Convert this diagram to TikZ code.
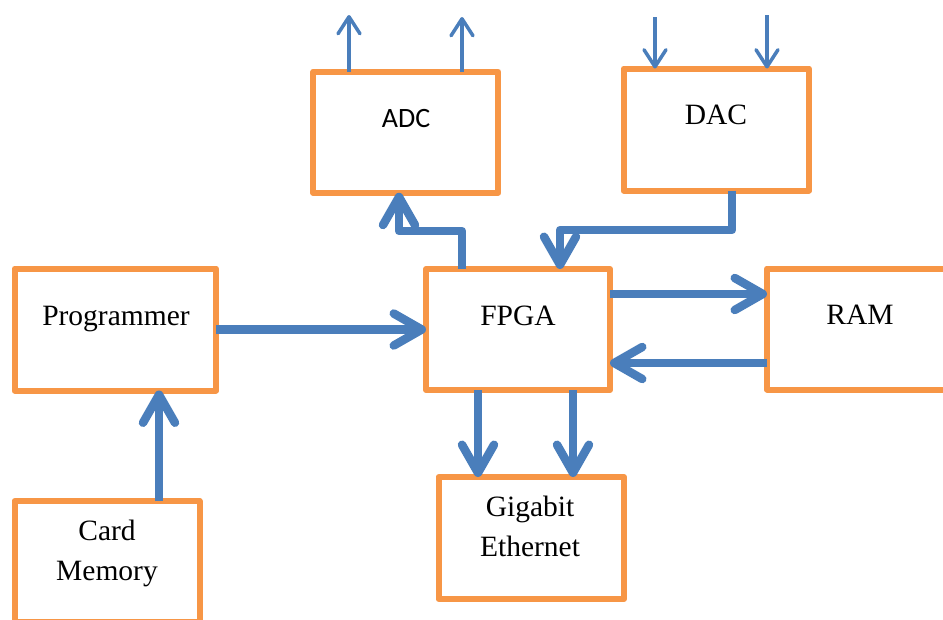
\documentclass[tikz,border=0pt]{standalone}
\usepackage{fontspec}
\setmainfont{Liberation Serif}
\newfontfamily\adcfont{Carlito}
\usetikzlibrary{arrows.meta}
\definecolor{boxorange}{RGB}{247,150,70}
\definecolor{linkblue}{RGB}{74,126,187}

\begin{document}
\begin{tikzpicture}[x=1pt,y=-1pt,
  block/.style={draw=boxorange, line width=6pt, line join=round, fill=white,
    minimum width=185pt, minimum height=121pt, inner sep=0pt, outer sep=0pt},
  lbl/.style={anchor=base, align=center, font=\fontsize{29.5}{40}\selectfont},
  bus/.style={draw=linkblue, line width=8.5pt, line join=round,
    -{Straight Barb[length=28pt,width=32pt,round]}},
  sig/.style={draw=linkblue, line width=3.5pt,
    -{Straight Barb[length=17pt,width=22pt,round]}},
]
\useasboundingbox (0,0) rectangle (943,619);
\clip (0,0) rectangle (943,619);

% blocks
\node[block] (adc) at (405.75,132.25) {};
\node[block, minimum width=185.5pt, minimum height=122pt] (dac) at (716.25,129.5) {};
\node[block, minimum width=184pt] (fpga) at (518,329.5) {};
\node[block, minimum width=186pt] (ram) at (860,329) {};
\node[block, minimum width=201.5pt, minimum height=122pt] (prog) at (115.25,329.5) {};
\node[block] (card) at (107,561.5) {};
\node[block, minimum width=185.5pt, minimum height=122pt] (gig) at (531.25,538) {};

% block titles (base anchor = baseline of the last line)
\node[lbl, font=\adcfont\fontsize{28}{34}\selectfont] (adc-t) at (406,127) {ADC};
\node[lbl] (dac-t) at (716,124) {DAC};
\node[lbl] (fpga-t) at (518,325) {FPGA};
\node[lbl] (ram-t) at (860,324) {RAM};
\node[lbl] (prog-t) at (116,325) {Programmer};
\node[lbl] (card-t) at (107,580) {Card\\Memory};
\node[lbl] (gig-t) at (530,556) {Gigabit\\Ethernet};

% external signal ends
\coordinate (adc-o1) at (349,15);
\coordinate (adc-o2) at (462,17);
\coordinate (dac-i1) at (655,17);
\coordinate (dac-i2) at (767,15);

% analog I/O
\draw[sig] (adc.north -| adc-o1) -- (adc-o1);
\draw[sig] (adc.north -| adc-o2) -- (adc-o2);
\draw[sig] (dac-i1) -- (dac-i1 |- dac.north);
\draw[sig] (dac-i2) -- (dac-i2 |- dac.north);

% data buses
\draw[bus] (prog.east) -- (fpga.west);
\draw[bus] ([xshift=52pt]card.north) -- ([xshift=52pt]card.north |- prog.south);
\draw[bus] ([yshift=35.5pt]fpga.east) -- ([yshift=35.5pt]fpga.east -| ram.west);
\draw[bus] ([yshift=-33.5pt]fpga.east -| ram.west) -- ([yshift=-33.5pt]fpga.east);
\draw[bus] ([xshift=-40pt]fpga.south) -- ([xshift=-40pt]fpga.south |- gig.north);
\draw[bus] ([xshift=55pt]fpga.south) -- ([xshift=55pt]fpga.south |- gig.north);
\draw[bus] ([xshift=-56pt]fpga.north) -- ++(0pt,38pt) -| ([xshift=-6.75pt]adc.south);
\draw[bus] ([xshift=15.75pt]dac.south) -- ++(0pt,-39.5pt) -| ([xshift=42pt]fpga.north);
\end{tikzpicture}
\end{document}
